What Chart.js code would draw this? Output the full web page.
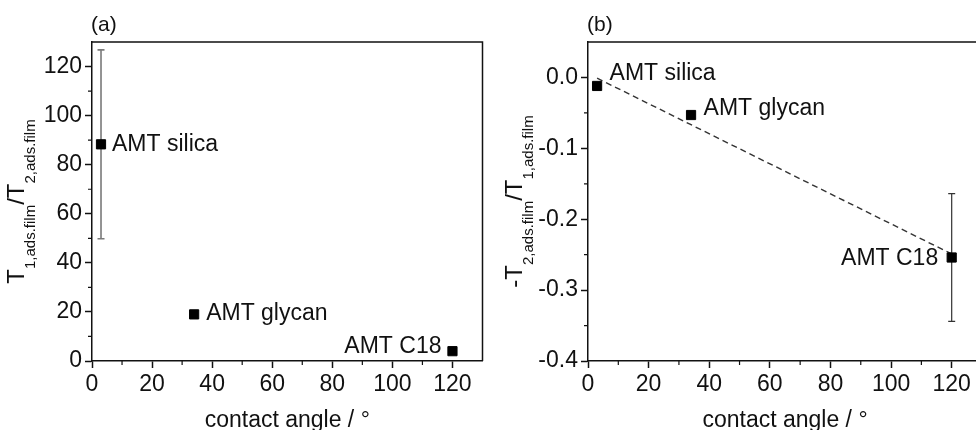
<!DOCTYPE html>
<html lang="en">
<head>
<meta charset="UTF-8">
<title>relaxation ratio vs contact angle</title>
<script src="https://cdn.jsdelivr.net/npm/chart.js"></script>
<style>
  html, body { margin: 0; padding: 0; background: #fff; overflow: hidden; }
  body { width: 976px; height: 430px; position: relative; }
  .panel { position: absolute; top: 0; height: 430px; }
  #panelA { left: 0; width: 490px; }
  #panelB { left: 490px; width: 500px; }
</style>
</head>
<body>
<div class="panel" id="panelA"><canvas id="chartA"></canvas></div>
<div class="panel" id="panelB"><canvas id="chartB"></canvas></div>
<script>
// samples and measured values
const samples = ['AMT silica', 'AMT glycan', 'AMT C18'];
const contactAngle = [3, 34, 120];
const ratioT1T2 = [88.3, 19, 4];
const ratioT1T2Err = [38.5, 0, 0];
const ratioT2T1 = [-0.012, -0.053, -0.254];
const ratioT2T1Err = [0, 0, 0.09];
// linear trend in panel (b)
const fitAngle = [3, 120];
const fitRatio = [-0.001, -0.249];
// axis ticks
const angleTicks = [0, 20, 40, 60, 80, 100, 120];
const angleMinor = [10, 30, 50, 70, 90, 110];
const ticksA = [0, 20, 40, 60, 80, 100, 120];
const minorA = [10, 30, 50, 70, 90, 110];
const ticksB = [-0.4, -0.3, -0.2, -0.1, 0.0];
const minorB = [-0.35, -0.25, -0.15, -0.05];

const FONT = "'Liberation Sans', Arial, sans-serif";
Chart.defaults.font.family = FONT;
Chart.defaults.font.size = 23;
Chart.defaults.color = '#111';

// label placement next to each point: [dx, dy, align]
const labelPosA = [[11, 7, 'left'], [12, 6, 'left'], [-11, 1.5, 'right']];
const labelPosB = [[12.5, -6, 'left'], [12.5, 0, 'left'], [-13.5, 7.5, 'right']];

// frame, minor ticks, error bars, labels and titles
const decorations = {
  id: 'decorations',
  beforeDatasetsDraw(chart, args, o) {
    const ctx = chart.ctx, x = chart.scales.x, y = chart.scales.y;
    ctx.save();
    ctx.strokeStyle = o.errColor;
    ctx.lineWidth = o.errWidth;
    o.values.forEach((v, i) => {
      const e = o.errors[i];
      if (!e) return;
      const px = x.getPixelForValue(contactAngle[i]);
      const top = y.getPixelForValue(v + e), bot = y.getPixelForValue(v - e);
      ctx.beginPath();
      ctx.moveTo(px, top); ctx.lineTo(px, bot);
      ctx.moveTo(px - 3.5, top); ctx.lineTo(px + 3.5, top);
      ctx.moveTo(px - 3.5, bot); ctx.lineTo(px + 3.5, bot);
      ctx.stroke();
    });
    ctx.restore();
  },
  afterDraw(chart, args, o) {
    const ctx = chart.ctx, a = chart.chartArea, x = chart.scales.x, y = chart.scales.y;
    ctx.save();
    // top and right spines
    ctx.strokeStyle = '#111';
    ctx.lineWidth = 1.5;
    ctx.beginPath();
    ctx.moveTo(a.left, a.top); ctx.lineTo(a.right, a.top); ctx.lineTo(a.right, a.bottom);
    ctx.stroke();
    // minor ticks
    ctx.lineWidth = 1.2;
    ctx.beginPath();
    angleMinor.forEach(v => {
      const px = x.getPixelForValue(v);
      ctx.moveTo(px, a.bottom); ctx.lineTo(px, a.bottom + 4);
    });
    o.minor.forEach(v => {
      const py = y.getPixelForValue(v);
      ctx.moveTo(a.left, py); ctx.lineTo(a.left - 4, py);
    });
    ctx.stroke();

    // point labels
    ctx.fillStyle = '#111';
    ctx.font = '23px ' + FONT;
    ctx.textBaseline = 'alphabetic';
    samples.forEach((s, i) => {
      const [dx, dy, al] = o.labelPos[i];
      ctx.textAlign = al;
      ctx.fillText(s, x.getPixelForValue(contactAngle[i]) + dx, y.getPixelForValue(o.values[i]) + dy);
    });

    // panel letter
    ctx.textAlign = 'left';
    ctx.font = '21px ' + FONT;
    ctx.fillText(o.letter, a.left - 1, 31);

    // x title
    ctx.textAlign = 'center';
    ctx.font = '23px ' + FONT;
    ctx.fillText('contact angle / °', (a.left + a.right) / 2, 427);

    // y title with subscripts, rotated
    const main = '24px ' + FONT, sub = '15px ' + FONT;
    let total = 0;
    o.yTitle.forEach(p => { ctx.font = p.sub ? sub : main; total += ctx.measureText(p.t).width; });
    ctx.translate(o.yTitleX, (a.top + a.bottom) / 2);
    ctx.rotate(-Math.PI / 2);
    ctx.textAlign = 'left';
    let cx = -total / 2;
    o.yTitle.forEach(p => {
      ctx.font = p.sub ? sub : main;
      ctx.fillText(p.t, cx, p.sub ? 11 : 0);
      cx += ctx.measureText(p.t).width;
    });
    ctx.restore();
  }
};

function axisX() {
  return {
    type: 'linear', min: 0, max: 130,
    afterBuildTicks: s => { s.ticks = angleTicks.map(v => ({ value: v })); },
    afterFit: s => { s.height = 430 - 361; },
    border: { display: true, color: '#111', width: 1.5 },
    grid: { drawOnChartArea: false, drawTicks: true, tickLength: 7, tickColor: '#111', tickWidth: 1.5 },
    ticks: { autoSkip: false, maxRotation: 0, padding: 3, callback: v => String(v) }
  };
}

function axisY(min, max, ticks, width, fmt) {
  return {
    type: 'linear', min: min, max: max,
    afterBuildTicks: s => { s.ticks = ticks.map(v => ({ value: v })); },
    afterFit: s => { s.width = width; },
    border: { display: true, color: '#111', width: 1.5 },
    grid: { drawOnChartArea: false, drawTicks: true, tickLength: 7, tickColor: '#111', tickWidth: 1.5 },
    ticks: { autoSkip: false, padding: 3, callback: fmt }
  };
}

const pointStyle = {
  pointStyle: 'rect', pointRadius: 6.5, pointHoverRadius: 6.5,
  pointBackgroundColor: '#000', pointBorderColor: '#000', pointBorderWidth: 1, showLine: false
};

new Chart(document.getElementById('chartA'), {
  type: 'scatter',
  data: {
    datasets: [Object.assign({
      data: contactAngle.map((c, i) => ({ x: c, y: ratioT1T2[i] }))
    }, pointStyle)]
  },
  options: {
    responsive: true, maintainAspectRatio: false, animation: false,
    layout: { padding: { left: 0, top: 42, right: 3, bottom: 0 } },
    plugins: {
      legend: { display: false }, tooltip: { enabled: false },
      decorations: {
        values: ratioT1T2, errors: ratioT1T2Err, errColor: '#7a7a7a', errWidth: 1.6,
        minor: minorA, labelPos: labelPosA, letter: '(a)', yTitleX: 24,
        yTitle: [{ t: 'T' }, { t: '1,ads.film', sub: true }, { t: '/' }, { t: 'T' }, { t: '2,ads.film', sub: true }]
      }
    },
    scales: { x: axisX(), y: axisY(0, 130, ticksA, 92, v => String(v)) }
  },
  plugins: [decorations]
});

new Chart(document.getElementById('chartB'), {
  type: 'scatter',
  data: {
    datasets: [
      Object.assign({ data: contactAngle.map((c, i) => ({ x: c, y: ratioT2T1[i] })) }, pointStyle),
      {
        data: fitAngle.map((c, i) => ({ x: c, y: fitRatio[i] })),
        showLine: true, pointRadius: 0, borderColor: '#333', borderWidth: 1.4,
        borderDash: [6, 4], fill: false
      }
    ]
  },
  options: {
    responsive: true, maintainAspectRatio: false, animation: false,
    layout: { padding: { left: 0, top: 42, right: 8, bottom: 0 } },
    plugins: {
      legend: { display: false }, tooltip: { enabled: false },
      decorations: {
        values: ratioT2T1, errors: ratioT2T1Err, errColor: '#333', errWidth: 1.2,
        minor: minorB, labelPos: labelPosB, letter: '(b)', yTitleX: 32,
        yTitle: [{ t: '-T' }, { t: '2,ads.film', sub: true }, { t: '/' }, { t: 'T' }, { t: '1,ads.film', sub: true }]
      }
    },
    scales: { x: axisX(), y: axisY(-0.4, 0.05, ticksB, 98, v => v.toFixed(1)) }
  },
  plugins: [decorations]
});
</script>
</body>
</html>
